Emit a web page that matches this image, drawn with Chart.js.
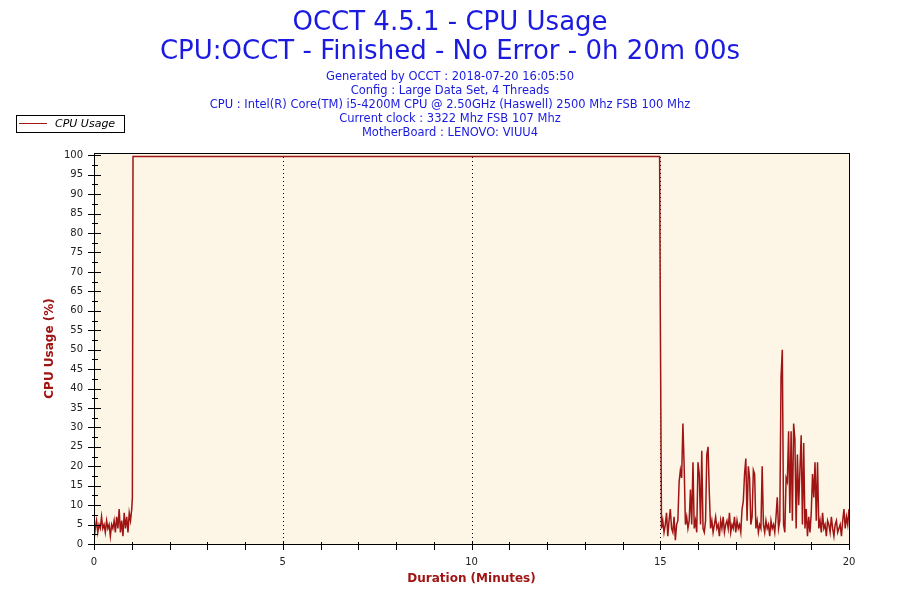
<!DOCTYPE html>
<html>
<head>
<meta charset="utf-8">
<script src="https://cdn.jsdelivr.net/npm/chart.js@4"></script>
<style>
  html, body { margin: 0; padding: 0; background: #fff; }
  canvas { display: block; }
</style>
</head>
<body>
<canvas id="cpuChart" width="900" height="600"></canvas>
<script>
// CPU usage (%) sampled every 2 s during the first minute (idle before the test)
const startUsage = [1, 4, 6, 3, 5, 4, 7, 4, 5, 3, 6, 4, 5, 2, 5, 4, 6, 3, 7, 4, 9, 3, 6, 2, 8, 4, 7, 3, 8, 6, 9];
// the jump to full load and the end of the plateau (seconds)
const jumpSeconds = [61, 62, 899];
const jumpUsage = [12, 99.7, 99.7];
// CPU usage (%) sampled every 2 s from 15:00 to 20:00
const endUsage = [
  62, 4, 6, 3, 5, 8, 2, 6, 9, 4, 3, 7, 1, 5, 6,
  16, 19, 17, 31, 20, 5, 7, 4, 6, 14, 5, 21, 4, 6, 3,
  21, 18, 5, 24, 4, 3, 6, 23, 25, 13, 4,
  6, 3, 5, 7, 4, 5, 2, 6, 4, 7, 3, 5, 6, 4, 8, 3, 5, 4, 7, 3, 6, 4, 5, 3,
  9, 11, 18, 22, 6, 20, 17, 5, 7, 19, 18, 4, 6, 3, 5, 4, 20, 5,
  3, 6, 4, 5, 2, 6, 4, 5, 3, 7,
  12, 4, 6, 43, 50, 5, 3, 17, 16, 29, 8, 29, 6, 31, 27, 4, 23, 10, 19, 28, 5, 26, 4, 9, 2, 7, 3,
  8, 18, 12, 21, 6, 21, 4,
  6, 3, 8, 4, 5, 2, 6, 5, 3, 7, 4, 2, 5, 6, 3, 4, 5, 2, 6, 9, 4, 7, 5, 9
];
const startSecond = 0;
const endSecond = 900;
const sampleStep = 2;

const titleLines = ['OCCT 4.5.1 - CPU Usage', 'CPU:OCCT - Finished - No Error - 0h 20m 00s'];
const infoLines = [
  'Generated by OCCT : 2018-07-20 16:05:50',
  'Config : Large Data Set, 4 Threads',
  'CPU : Intel(R) Core(TM) i5-4200M CPU @ 2.50GHz (Haswell) 2500 Mhz FSB 100 Mhz',
  'Current clock : 3322 Mhz FSB 107 Mhz',
  'MotherBoard : LENOVO: VIUU4'
];
const yTickValues = [0, 5, 10, 15, 20, 25, 30, 35, 40, 45, 50, 55, 60, 65, 70, 75, 80, 85, 90, 95, 100];
const gridMinutes = [5, 10, 15];

const points = [];
startUsage.forEach((v, i) => points.push({ x: (startSecond + i * sampleStep) / 60, y: v }));
jumpSeconds.forEach((s, i) => points.push({ x: s / 60, y: jumpUsage[i] }));
endUsage.forEach((v, i) => points.push({ x: (endSecond + i * sampleStep) / 60, y: v }));

const lineColor = '#a01414';
const fontFamily = '"DejaVu Sans", Verdana, sans-serif';

const frame = {
  id: 'frame',
  beforeDraw(chart) {
    const { ctx, chartArea: a } = chart;
    ctx.save();
    ctx.fillStyle = '#fdf5e6';
    ctx.fillRect(a.left, a.top, a.right - a.left, a.bottom - a.top);
    // dotted vertical grid
    const xs = chart.scales.x;
    ctx.strokeStyle = '#000';
    ctx.lineWidth = 1;
    ctx.setLineDash([1, 3]);
    gridMinutes.forEach(m => {
      const px = Math.round(xs.getPixelForValue(m)) + 0.5;
      ctx.beginPath();
      ctx.moveTo(px, a.top);
      ctx.lineTo(px, a.bottom);
      ctx.stroke();
    });
    ctx.restore();
  },
  afterDraw(chart) {
    const { ctx, chartArea: a } = chart;
    const xs = chart.scales.x, ys = chart.scales.y;
    ctx.save();
    ctx.strokeStyle = '#000';
    ctx.lineWidth = 1;
    ctx.strokeRect(Math.round(a.left) + 0.5, Math.round(a.top) + 0.5, Math.round(a.right - a.left), Math.round(a.bottom - a.top));
    ctx.beginPath();
    for (let v = 0; v <= 100; v += 2.5) {
      const py = Math.round(ys.getPixelForValue(v)) + 0.5;
      const major = v % 5 === 0;
      ctx.moveTo(a.left - (major ? 6 : 2), py);
      ctx.lineTo(a.left + (major ? 7 : 4), py);
    }
    for (let m = 0; m <= 20; m++) {
      const px = Math.round(xs.getPixelForValue(m)) + 0.5;
      ctx.moveTo(px, a.bottom - 2);
      ctx.lineTo(px, a.bottom + 6);
    }
    ctx.stroke();

    // legend box
    ctx.fillStyle = '#fff';
    ctx.fillRect(16.5, 115.5, 108, 17);
    ctx.strokeRect(16.5, 115.5, 108, 17);
    ctx.strokeStyle = lineColor;
    ctx.beginPath();
    ctx.moveTo(19, 123.5);
    ctx.lineTo(47, 123.5);
    ctx.stroke();
    ctx.fillStyle = '#000';
    ctx.font = 'italic 11px ' + fontFamily;
    ctx.textBaseline = 'middle';
    ctx.fillText(chart.data.datasets[0].label, 55, 124);
    ctx.restore();
  }
};

new Chart(document.getElementById('cpuChart'), {
  type: 'line',
  data: {
    datasets: [{
      label: 'CPU Usage',
      data: points,
      borderColor: lineColor,
      borderWidth: 1.5,
      pointRadius: 0,
      tension: 0,
      fill: false
    }]
  },
  options: {
    responsive: false,
    animation: false,
    devicePixelRatio: 1,
    layout: { padding: 0 },
    plugins: {
      legend: { display: false },
      tooltip: { enabled: false },
      title: {
        display: true,
        text: titleLines,
        color: '#1a1ae0',
        font: { family: fontFamily, size: 26, weight: 'normal', lineHeight: '29px' },
        padding: { top: 9, bottom: 0 }
      },
      subtitle: {
        display: true,
        text: infoLines,
        color: '#1a1ae0',
        font: { family: fontFamily, size: 11.5, weight: 'normal', lineHeight: '14px' },
        padding: { top: 3, bottom: 13 }
      }
    },
    scales: {
      x: {
        type: 'linear',
        min: 0,
        max: 20,
        afterFit(scale) { scale.height = 56; },
        grid: { display: false, drawTicks: false },
        border: { display: false },
        ticks: {
          stepSize: 1,
          autoSkip: false,
          maxRotation: 0,
          padding: 12,
          color: '#222',
          font: { family: fontFamily, size: 10 },
          callback: v => (v % 5 === 0 ? String(v) : '')
        },
        title: {
          display: true,
          text: 'Duration (Minutes)',
          color: '#a01414',
          font: { family: fontFamily, size: 12, weight: 'bold' },
          padding: { top: 0, bottom: 14 }
        }
      },
      y: {
        type: 'linear',
        min: 0,
        max: 100.6,
        afterFit(scale) { scale.width = 94; },
        afterBuildTicks(scale) { scale.ticks = yTickValues.map(v => ({ value: v })); },
        grid: { display: false, drawTicks: false },
        border: { display: false },
        ticks: {
          padding: 11,
          color: '#222',
          font: { family: fontFamily, size: 10 }
        },
        title: {
          display: true,
          text: 'CPU Usage (%)',
          color: '#a01414',
          font: { family: fontFamily, size: 12, weight: 'bold' },
          padding: { top: 43, bottom: 0 }
        }
      },
      // empty right-hand margin so the titles stay centred on the page
      yRight: {
        type: 'linear',
        position: 'right',
        display: true,
        afterFit(scale) { scale.width = 51; },
        grid: { display: false, drawTicks: false },
        border: { display: false },
        ticks: { display: false }
      }
    }
  },
  plugins: [frame]
});
</script>
</body>
</html>
